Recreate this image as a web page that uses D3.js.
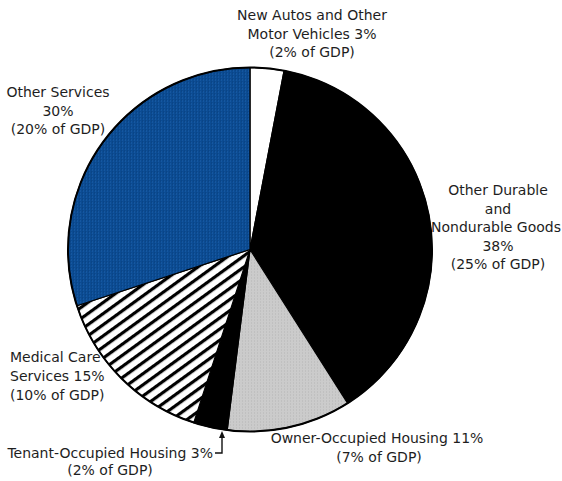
<!DOCTYPE html>
<html><head><meta charset="utf-8">
<script src="https://cdn.jsdelivr.net/npm/d3@7"></script>
<style>
html,body{margin:0;padding:0;background:#fff;}
svg text{font-family:"DejaVu Sans",sans-serif;font-size:14px;fill:#1e1e1e;}
</style></head>
<body>
<svg id="chart" width="562" height="481"></svg>
<script>
// Data (clockwise from 12 o'clock)
const categories = ["New Autos and Other Motor Vehicles","Other Durable and Nondurable Goods","Owner-Occupied Housing","Tenant-Occupied Housing","Medical Care Services","Other Services"];
const shares = [3, 38, 11, 3, 15, 30];          // % of consumption
const gdpShares = [2, 25, 7, 2, 10, 20];         // % of GDP
const fills = ["white","black","url(#gray)","black","url(#hatch)","url(#blue)"];

const svg = d3.select("#chart");
const defs = svg.append("defs");

// blue dotted pattern
const pb = defs.append("pattern").attr("id","blue").attr("patternUnits","userSpaceOnUse").attr("width",3).attr("height",3);
pb.append("rect").attr("width",3).attr("height",3).attr("fill","#0b4b92");
pb.append("rect").attr("x",1).attr("y",1).attr("width",1).attr("height",1).attr("fill","#1f63ad");
pb.append("rect").attr("x",0).attr("y",0).attr("width",1).attr("height",1).attr("fill","#083f7c");
// gray dotted pattern
const pg = defs.append("pattern").attr("id","gray").attr("patternUnits","userSpaceOnUse").attr("width",3).attr("height",3);
pg.append("rect").attr("width",3).attr("height",3).attr("fill","#cbcbcb");
pg.append("rect").attr("x",1).attr("y",1).attr("width",1).attr("height",1).attr("fill","#b4b4b4");
// hatch pattern
const ph = defs.append("pattern").attr("id","hatch").attr("patternUnits","userSpaceOnUse")
  .attr("width",10).attr("height",9).attr("patternTransform","rotate(-36)");
ph.append("rect").attr("width",10).attr("height",9).attr("fill","white");
ph.append("rect").attr("x",0).attr("y",0).attr("width",10).attr("height",3.2).attr("fill","black");

const cx = 250, cy = 249.5, r = 182;
const g = svg.append("g").attr("transform",`translate(${cx},${cy})`);
const pie = d3.pie().sort(null).value(d=>d).startAngle(0).endAngle(2*Math.PI);
const arcs = pie(shares);
const arc = d3.arc().innerRadius(0).outerRadius(r);

g.selectAll("path").data(arcs).join("path")
  .attr("d",arc)
  .attr("fill",(d,i)=>fills[i])
  .attr("stroke","black").attr("stroke-width",1.2).attr("stroke-linejoin","round");
g.append("circle").attr("r",r).attr("fill","none").attr("stroke","black").attr("stroke-width",2);

// Labels
const labels = [
  {lines:["New Autos and Other","Motor Vehicles "+shares[0]+"%","("+gdpShares[0]+"% of GDP)"], x:312, y:20, anchor:"middle", lh:18.5},
  {lines:["Other Durable","and"], x:498, y:195, anchor:"middle", lh:18.5},
  {lines:["Nondurable Goods"], x:496, y:232, anchor:"middle", lh:18.5},
  {lines:[shares[1]+"%","("+gdpShares[1]+"% of GDP)"], x:498, y:250.5, anchor:"middle", lh:18.5},
  {lines:["Owner-Occupied Housing "+shares[2]+"%"], x:377, y:443, anchor:"middle", lh:19},
  {lines:["("+gdpShares[2]+"% of GDP)"], x:379, y:462, anchor:"middle", lh:19},
  {lines:["Tenant-Occupied Housing "+shares[3]+"%"], x:213, y:458, anchor:"end", lh:17.5},
  {lines:["("+gdpShares[3]+"% of GDP)"], x:110, y:475, anchor:"middle", lh:17.5},
  {lines:["Medical Care","Services "+shares[4]+"%","("+gdpShares[4]+"% of GDP)"], x:10, y:362, anchor:"start", lh:19},
  {lines:["Other Services",shares[5]+"%","("+gdpShares[5]+"% of GDP)"], x:58, y:97, anchor:"middle", lh:18.5}
];
labels.forEach(L=>{
  const t = svg.append("text").attr("text-anchor",L.anchor);
  L.lines.forEach((s,i)=>t.append("tspan").attr("x",L.x).attr("y",L.y+i*L.lh).text(s));
});

// Tenant leader arrow
const ax = 222;
svg.append("path").attr("d",`M${ax},435 L${ax},453 L215,453`).attr("fill","none").attr("stroke","#111").attr("stroke-width",1.4);
svg.append("path").attr("d",`M${ax-3},438 L${ax},431 L${ax+3},438 Z`).attr("fill","#111");
</script>
</body></html>
